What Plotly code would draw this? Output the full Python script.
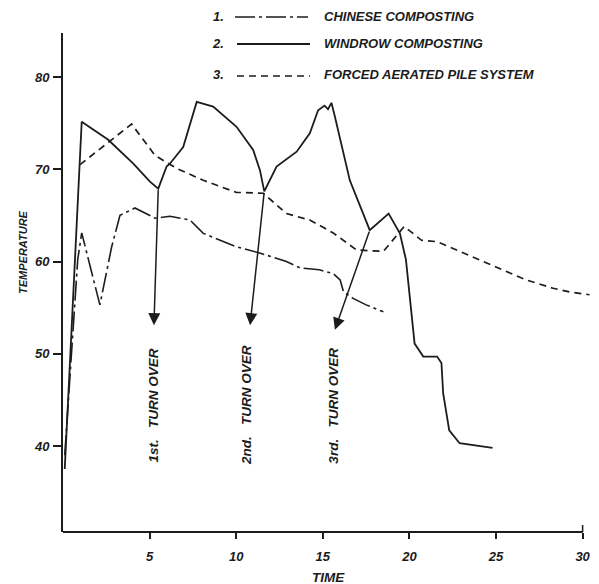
import plotly.graph_objects as go

# ---------------- data ----------------
chinese_day = [0.1, 0.85, 1.08, 2.13, 2.81, 3.29, 4.15, 5.31, 6.17, 7.33, 8.1, 10.0,
               11.4, 12.9, 13.7, 14.8, 15.6, 16.0, 16.2, 16.75, 17.5, 18.5]
chinese_temp = [39.0, 60.2, 63.1, 55.3, 61.6, 65.0, 65.8, 64.7, 64.9, 64.5, 63.05, 61.6,
                60.9, 60.0, 59.3, 59.1, 58.7, 58.0, 56.7, 56.0, 55.3, 54.55]

windrow_day = [0.1, 1.08, 2.61, 4.06, 5.02, 5.5, 5.98, 6.17, 6.94, 7.72, 8.67, 10.02,
               10.98, 11.37, 11.62, 12.33, 13.49, 14.25, 14.73, 15.1, 15.3, 15.5, 15.7,
               16.56, 17.71, 18.8, 19.45, 19.8, 20.0, 20.3, 20.8, 21.6, 21.85, 21.95,
               22.3, 22.9, 24.8]
windrow_temp = [37.5, 75.15, 73.2, 70.6, 68.65, 67.9, 70.3, 70.6, 72.4, 77.3, 76.8, 74.6,
                72.1, 69.9, 67.6, 70.3, 71.9, 73.9, 76.4, 76.9, 76.5, 77.2, 75.7,
                68.8, 63.4, 65.2, 63.05, 60.2, 56.55, 51.1, 49.7, 49.7, 49.0, 45.7,
                41.7, 40.3, 39.8]

forced_day = [0.98, 3.96, 5.31, 6.56, 8.1, 10.0, 11.56, 12.9, 14.25, 15.6, 16.95, 18.5,
              19.7, 20.7, 21.6, 22.9, 23.9, 25.2, 26.75, 28.3, 29.25, 30.4]
forced_temp = [70.5, 74.9, 71.5, 70.1, 68.8, 67.5, 67.4, 65.2, 64.5, 63.1, 61.25, 61.1,
               63.8, 62.3, 62.15, 61.1, 60.35, 59.3, 58.0, 57.1, 56.7, 56.4]

series_names = ["CHINESE COMPOSTING", "WINDROW COMPOSTING", "FORCED AERATED PILE SYSTEM"]
series_numbers = ["1.", "2.", "3."]

turn_labels = ["1st.", "2nd.", "3rd."]
turn_tail_day = [5.5, 11.62, 17.71]
turn_tail_temp = [67.9, 67.6, 63.4]
turn_tip_day = [5.25, 10.8, 15.7]
turn_tip_temp = [53.1, 53.1, 52.6]
turn_text_day = [5.2, 10.6, 15.6]
turn_text_temp = 44.4

x_ticks = [5, 10, 15, 20, 25, 30]
y_ticks = [40, 50, 60, 70, 80]

# ---------------- styling ----------------
INK = "#1c1c1c"
FONT = "Liberation Sans, Arial, sans-serif"
dash_chinese = "20px,4px,3px,4px"
dash_forced = "7px,5px"
styles = [dict(width=1.6, dash=dash_chinese),
          dict(width=1.8, dash="solid"),
          dict(width=1.7, dash=dash_forced)]

W, H = 599, 584
ML, MR, MT, MB = 63, 6, 33, 52
pw, ph = W - ML - MR, H - MT - MB


def px_x(px):
    return (px - ML) / pw


def px_y(py):
    return (H - MB - py) / ph


fig = go.Figure()
for (d, t), name, st in zip([(chinese_day, chinese_temp), (windrow_day, windrow_temp),
                             (forced_day, forced_temp)], series_names, styles):
    fig.add_trace(go.Scatter(x=d, y=t, mode="lines", name=name,
                             line=dict(color=INK, width=st["width"], dash=st["dash"]),
                             showlegend=False))

ann = []
shapes = []

# turn-over arrows and labels
for lab, tx, ty, hx, hy, lx in zip(turn_labels, turn_tail_day, turn_tail_temp,
                                   turn_tip_day, turn_tip_temp, turn_text_day):
    ann.append(dict(x=hx, y=hy, ax=tx, ay=ty, xref="x", yref="y", axref="x", ayref="y",
                    text="", showarrow=True, arrowhead=2, arrowsize=1.6, arrowwidth=1.5,
                    arrowcolor=INK, standoff=0))
    ann.append(dict(x=lx, y=turn_text_temp, xref="x", yref="y", showarrow=False,
                    text=lab + "   TURN OVER", textangle=-90,
                    font=dict(family=FONT, size=13.5, color=INK, weight="bold", style="italic")))

# manual legend at top
rows_y = [16, 43, 75]
line_x0 = [235, 237, 237]
line_x1 = [308, 310, 310]
for num, name, st, ry, x0, x1 in zip(series_numbers, series_names, styles, rows_y, line_x0, line_x1):
    ann.append(dict(x=px_x(218), y=px_y(ry), xref="paper", yref="paper", showarrow=False,
                    text=num, xanchor="center", yanchor="middle",
                    font=dict(family=FONT, size=13, color=INK, weight="bold", style="italic")))
    shapes.append(dict(type="line", xref="paper", yref="paper",
                       x0=px_x(x0), x1=px_x(x1), y0=px_y(ry + 1), y1=px_y(ry + 1),
                       line=dict(color=INK, width=st["width"], dash=st["dash"])))
    ann.append(dict(x=px_x(322), y=px_y(ry), xref="paper", yref="paper", showarrow=False,
                    text=name, xanchor="left", yanchor="middle",
                    font=dict(family=FONT, size=13, color=INK, weight="bold", style="italic")))

# axis titles
ann.append(dict(x=px_x(328), y=px_y(577), xref="paper", yref="paper", showarrow=False,
                text="TIME", xanchor="center", yanchor="middle",
                font=dict(family=FONT, size=13.5, color=INK, weight="bold", style="italic")))
ann.append(dict(x=px_x(23), y=px_y(252), xref="paper", yref="paper", showarrow=False,
                text="TEMPERATURE", textangle=-90, xanchor="center", yanchor="middle",
                font=dict(family=FONT, size=11, color=INK, weight="bold", style="italic")))

# x-axis baseline (stops at 30 with a small upturn)
shapes.append(dict(type="line", xref="x", yref="paper", x0=-0.45, x1=30, y0=0, y1=0,
                   line=dict(color=INK, width=2)))
shapes.append(dict(type="line", xref="x", yref="paper", x0=30, x1=30, y0=0, y1=0.014,
                   line=dict(color=INK, width=1.5)))

tick_font = dict(family=FONT, size=13, color=INK, weight="bold", style="italic")
fig.update_layout(
    width=W, height=H,
    margin=dict(l=ML, r=MR, t=MT, b=MB, pad=0),
    paper_bgcolor="white", plot_bgcolor="white",
    annotations=ann, shapes=shapes,
    xaxis=dict(range=[0, 30.6], tickvals=x_ticks, ticks="outside", ticklen=6,
               tickwidth=1.5, tickcolor=INK, showgrid=False, zeroline=False,
               showline=False, tickfont=tick_font, ticklabelstandoff=6),
    yaxis=dict(range=[30.68, 84.77], tickvals=y_ticks, ticks="outside", ticklen=8,
               tickwidth=1.5, tickcolor=INK, showgrid=False, zeroline=False,
               showline=True, linecolor=INK, linewidth=2, tickfont=tick_font,
               ticklabelstandoff=1),
)

fig.write_html("out.html", config={"displayModeBar": False},
               post_script="document.body.style.margin='0';")
